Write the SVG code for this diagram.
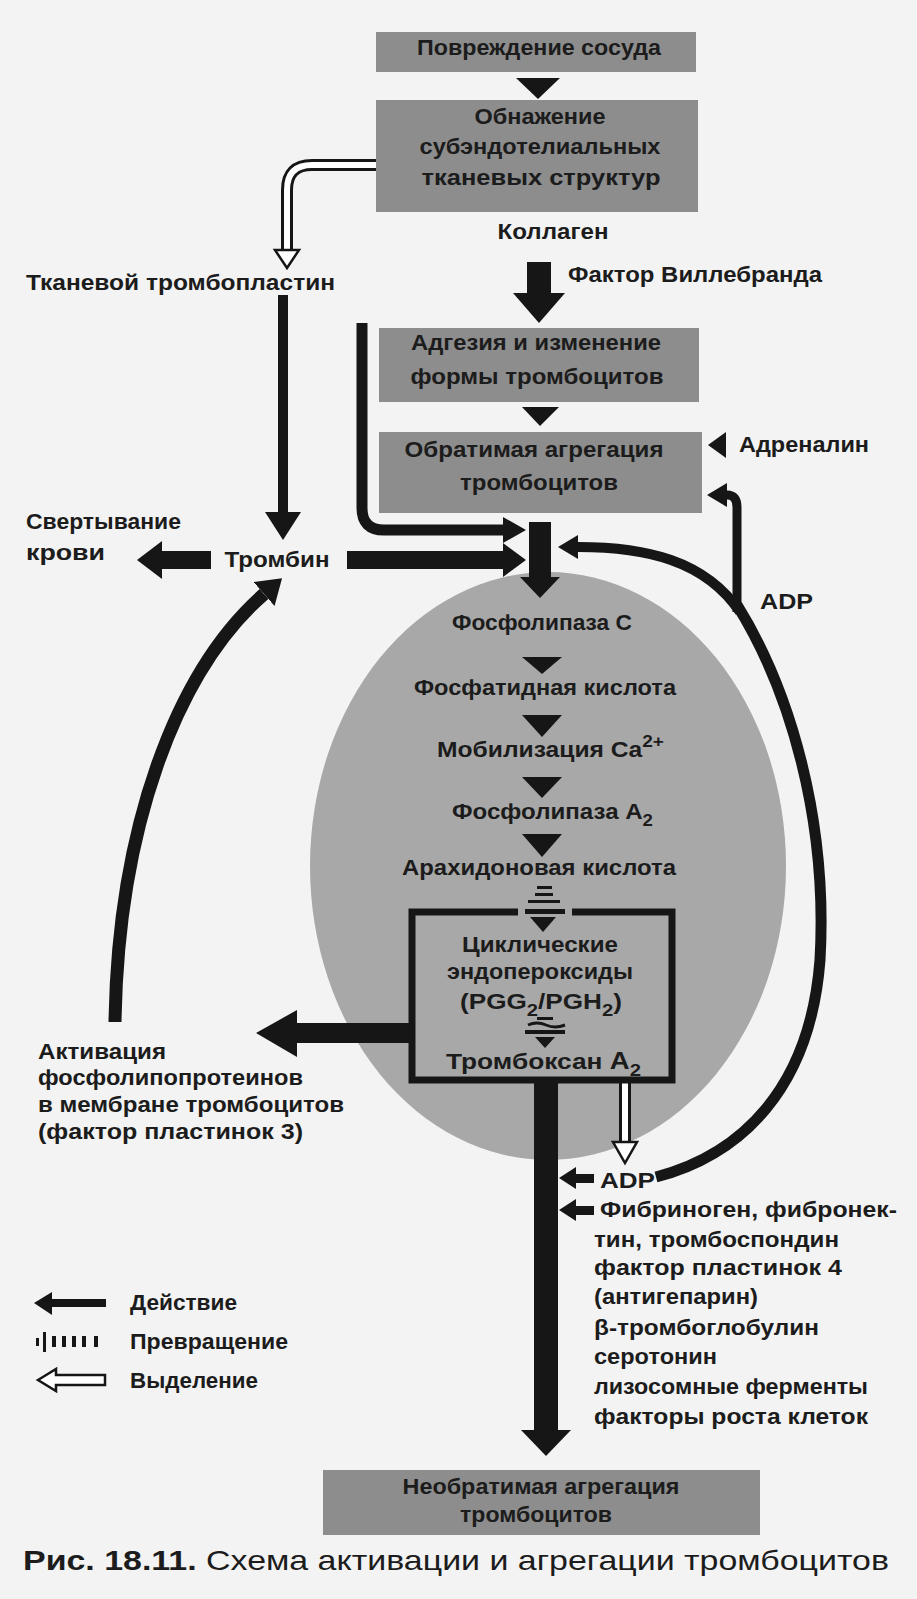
<svg xmlns="http://www.w3.org/2000/svg" width="917" height="1599" viewBox="0 0 917 1599">
<defs>
<style>
.lbl{font-family:"Liberation Sans",Arial,"Noto Sans",sans-serif;font-weight:bold;font-size:22px;fill:#1c1c1c}
.cap{font-family:"Liberation Sans",Arial,"Noto Sans",sans-serif;font-size:28px;fill:#1c1c1c}
.box{fill:#8d8d8d}
.ink{fill:#161616}
.ln{stroke:#161616;fill:none}
.hol{fill:#ffffff;stroke:#161616;stroke-width:2.5}
</style>
<marker id="ahS" markerUnits="userSpaceOnUse" viewBox="0 0 20 24" markerWidth="20" markerHeight="24" refX="0" refY="12" orient="auto"><path d="M0,0 L20,12 L0,24 Z" fill="#161616"/></marker>
<marker id="ahL" markerUnits="userSpaceOnUse" viewBox="0 0 24 32" markerWidth="24" markerHeight="32" refX="0" refY="16" orient="auto"><path d="M0,0 L24,16 L0,32 Z" fill="#161616"/></marker>
</defs>
<rect width="917" height="1599" fill="#f3f3f3"/>

<g id="platelet">
<ellipse cx="548" cy="866" rx="238" ry="294" fill="#a8a8a8"/>
</g>

<g id="connectors">
<polygon class="ink" points="516,78 560,78 538,99"/>
<polygon class="ink" points="522,407 559,407 540,426"/>
<path class="ln" stroke-width="12" d="M378 165 L312 165 Q287 165 287 190 L287 252"/>
<path d="M378 165 L312 165 Q287 165 287 190 L287 252" fill="none" stroke="#ffffff" stroke-width="6"/>
<polygon class="hol" points="275,250 299,250 287,268"/>
<rect class="ink" x="527" y="262" width="24" height="33"/>
<polygon class="ink" points="513,293 565,293 539,323"/>
<path class="ln" stroke-width="10" d="M283 295 L283 515"/>
<polygon class="ink" points="265,512 301,512 283,540"/>
<path class="ln" stroke-width="11" d="M362 323 L362 508 Q362 530 384 530 L505 530"/>
<polygon class="ink" points="503,517 503,543 526,530"/>
<rect class="ink" x="347" y="551" width="158" height="18"/>
<polygon class="ink" points="503,543 503,577 526,560"/>
<rect class="ink" x="160" y="551" width="51" height="18"/>
<polygon class="ink" points="162,541 162,579 137,560"/>
<rect class="ink" x="529" y="522" width="22" height="57"/>
<polygon class="ink" points="520,577 560,577 540,598"/>
<polygon class="ink" points="522,657 562,657 542,674"/>
<polygon class="ink" points="522,715 562,715 542,737"/>
<polygon class="ink" points="522,777 562,777 542,798"/>
<polygon class="ink" points="522,834 562,834 542,857"/>
<rect class="ink" x="537" y="886" width="15" height="3"/>
<rect class="ink" x="535" y="893" width="18" height="3"/>
<rect class="ink" x="528" y="900" width="32" height="3"/>
<rect class="ink" x="525" y="909" width="40" height="5"/>
<polygon class="ink" points="530,917 556,917 543,932"/>
<rect class="ink" x="537" y="1017" width="16" height="3"/>
<path class="ln" stroke-width="3" d="M528 1025 Q537 1021 546 1025 T565 1025"/>
<rect class="ink" x="525" y="1030" width="40" height="4"/>
<polygon class="ink" points="535,1037 555,1037 545,1048"/>
<rect class="ink" x="297" y="1023" width="115" height="20"/>
<polygon class="ink" points="297,1010 297,1057 256,1033"/>
<path class="ln" stroke-width="13" d="M115 1022 C118 830 175 672 264 594" marker-end="url(#ahL)"/>
<rect class="ink" x="534" y="1080" width="24" height="352"/>
<polygon class="ink" points="521,1430 571,1430 546,1456"/>
<path class="ln" stroke-width="12" d="M625 1083 L625 1144"/>
<path d="M625 1083 L625 1144" fill="none" stroke="#ffffff" stroke-width="6"/>
<polygon class="hol" points="613,1142 637,1142 625,1163"/>
<rect class="ink" x="574" y="1174" width="20" height="9"/>
<polygon class="ink" points="576,1167 576,1189 559,1178"/>
<rect class="ink" x="574" y="1206" width="20" height="9"/>
<polygon class="ink" points="576,1199 576,1221 559,1210"/>
<path class="ln" stroke-width="11" d="M656 1177 C740 1155 810 1090 820 960 C828 820 790 690 737 605"/>
<path class="ln" stroke-width="10" d="M740 612 C705 560 645 547 578 547" marker-end="url(#ahS)"/>
<path class="ln" stroke-width="9" d="M737 612 L737 507 Q737 495 727 495" marker-end="url(#ahS)"/>
<polygon class="ink" points="726,432 726,458 708,445"/>
</g>

<g id="n-povrezhdenie">
<rect class="box" x="376" y="32" width="320" height="40"/>
<text class="lbl" x="539" y="55" text-anchor="middle" textLength="244" lengthAdjust="spacingAndGlyphs">Повреждение сосуда</text>
</g>
<g id="n-obnazhenie">
<rect class="box" x="376" y="100" width="322" height="112"/>
<text class="lbl" x="540" y="124" text-anchor="middle" textLength="131" lengthAdjust="spacingAndGlyphs">Обнажение</text>
<text class="lbl" x="540" y="154" text-anchor="middle" textLength="241" lengthAdjust="spacingAndGlyphs">субэндотелиальных</text>
<text class="lbl" x="541" y="185" text-anchor="middle" textLength="239" lengthAdjust="spacingAndGlyphs">тканевых  структур</text>
</g>
<g id="n-kollagen">
<text class="lbl" x="553" y="239" text-anchor="middle" textLength="111" lengthAdjust="spacingAndGlyphs">Коллаген</text>
</g>
<g id="n-villebrand">
<text class="lbl" x="568" y="282" textLength="254" lengthAdjust="spacingAndGlyphs">Фактор Виллебранда</text>
</g>
<g id="n-tromboplastin">
<text class="lbl" x="26" y="290" textLength="309" lengthAdjust="spacingAndGlyphs">Тканевой тромбопластин</text>
</g>
<g id="n-adgeziya">
<rect class="box" x="379" y="328" width="320" height="74"/>
<text class="lbl" x="536" y="350" text-anchor="middle" textLength="250" lengthAdjust="spacingAndGlyphs">Адгезия и изменение</text>
<text class="lbl" x="537" y="384" text-anchor="middle" textLength="253" lengthAdjust="spacingAndGlyphs">формы тромбоцитов</text>
</g>
<g id="n-obratimaya">
<rect class="box" x="379" y="432" width="323" height="81"/>
<text class="lbl" x="534" y="457" text-anchor="middle" textLength="259" lengthAdjust="spacingAndGlyphs">Обратимая агрегация</text>
<text class="lbl" x="539" y="490" text-anchor="middle" textLength="158" lengthAdjust="spacingAndGlyphs">тромбоцитов</text>
</g>
<g id="n-adrenalin">
<text class="lbl" x="739" y="452" textLength="130" lengthAdjust="spacingAndGlyphs">Адреналин</text>
</g>
<g id="n-adp-top">
<text class="lbl" x="760" y="609" textLength="53" lengthAdjust="spacingAndGlyphs">ADP</text>
</g>
<g id="n-svertyvanie">
<text class="lbl" x="26" y="529" textLength="155" lengthAdjust="spacingAndGlyphs">Свертывание</text>
<text class="lbl" x="26" y="560" textLength="79" lengthAdjust="spacingAndGlyphs">крови</text>
</g>
<g id="n-trombin">
<text class="lbl" x="277" y="567" text-anchor="middle" textLength="105" lengthAdjust="spacingAndGlyphs">Тромбин</text>
</g>
<g id="n-fosfolipaza-c">
<text class="lbl" x="542" y="630" text-anchor="middle" textLength="180" lengthAdjust="spacingAndGlyphs">Фосфолипаза С</text>
</g>
<g id="n-fosfatidnaya">
<text class="lbl" x="545" y="695" text-anchor="middle" textLength="262" lengthAdjust="spacingAndGlyphs">Фосфатидная кислота</text>
</g>
<g id="n-ca">
<text class="lbl" x="437" y="757" textLength="227" lengthAdjust="spacingAndGlyphs">Мобилизация Ca<tspan dy="-10" font-size="17">2+</tspan></text>
</g>
<g id="n-fosfolipaza-a2">
<text class="lbl" x="452" y="819" textLength="201" lengthAdjust="spacingAndGlyphs">Фосфолипаза A<tspan dy="7" font-size="17">2</tspan></text>
</g>
<g id="n-arahidonovaya">
<text class="lbl" x="539" y="875" text-anchor="middle" textLength="274" lengthAdjust="spacingAndGlyphs">Арахидоновая кислота</text>
</g>
<g id="n-endoperoksidy">
<path class="ln" stroke-width="7" d="M518 912 L412 912 L412 1080 L672 1080 L672 912 L572 912"/>
<text class="lbl" x="540" y="952" text-anchor="middle" textLength="156" lengthAdjust="spacingAndGlyphs">Циклические</text>
<text class="lbl" x="540" y="979" text-anchor="middle" textLength="186" lengthAdjust="spacingAndGlyphs">эндопероксиды</text>
<text class="lbl" x="460" y="1009" textLength="162" lengthAdjust="spacingAndGlyphs">(PGG<tspan dy="7" font-size="17">2</tspan><tspan dy="-7">/PGH</tspan><tspan dy="7" font-size="17">2</tspan><tspan dy="-7">)</tspan></text>
<text class="lbl" x="446" y="1069" textLength="195" lengthAdjust="spacingAndGlyphs">Тромбоксан  <tspan font-size="23">A</tspan><tspan dy="7" font-size="17">2</tspan></text>
</g>
<g id="n-aktivaciya">
<text class="lbl" x="38" y="1059" textLength="128" lengthAdjust="spacingAndGlyphs">Активация</text>
<text class="lbl" x="38" y="1085" textLength="265" lengthAdjust="spacingAndGlyphs">фосфолипопротеинов</text>
<text class="lbl" x="38" y="1112" textLength="306" lengthAdjust="spacingAndGlyphs">в мембране тромбоцитов</text>
<text class="lbl" x="38" y="1139" textLength="265" lengthAdjust="spacingAndGlyphs">(фактор пластинок 3)</text>
</g>
<g id="n-adp-bottom">
<text class="lbl" x="600" y="1188" textLength="55" lengthAdjust="spacingAndGlyphs">ADP</text>
</g>
<g id="n-secreted">
<text class="lbl" x="600" y="1217" textLength="297" lengthAdjust="spacingAndGlyphs">Фибриноген, фибронек-</text>
<text class="lbl" x="594" y="1247" textLength="245" lengthAdjust="spacingAndGlyphs">тин, тромбоспондин</text>
<text class="lbl" x="594" y="1275" textLength="248" lengthAdjust="spacingAndGlyphs">фактор  пластинок 4</text>
<text class="lbl" x="594" y="1304" textLength="164" lengthAdjust="spacingAndGlyphs">(антигепарин)</text>
<text class="lbl" x="594" y="1335" textLength="225" lengthAdjust="spacingAndGlyphs">β-тромбоглобулин</text>
<text class="lbl" x="594" y="1364" textLength="123" lengthAdjust="spacingAndGlyphs">серотонин</text>
<text class="lbl" x="594" y="1394" textLength="274" lengthAdjust="spacingAndGlyphs">лизосомные ферменты</text>
<text class="lbl" x="594" y="1424" textLength="274" lengthAdjust="spacingAndGlyphs">факторы роста клеток</text>
</g>
<g id="legend">
<rect class="ink" x="50" y="1299" width="56" height="8"/>
<polygon class="ink" points="52,1292 52,1315 34,1303"/>
<text class="lbl" x="130" y="1310" textLength="107" lengthAdjust="spacingAndGlyphs">Действие</text>
<rect class="ink" x="36" y="1338" width="3" height="8"/>
<rect class="ink" x="43" y="1332" width="3" height="20"/>
<rect class="ink" x="52" y="1336" width="4" height="11"/>
<rect class="ink" x="62" y="1336" width="4" height="11"/>
<rect class="ink" x="72" y="1336" width="4" height="11"/>
<rect class="ink" x="82" y="1336" width="4" height="11"/>
<rect class="ink" x="94" y="1336" width="4" height="11"/>
<text class="lbl" x="130" y="1349" textLength="158" lengthAdjust="spacingAndGlyphs">Превращение</text>
<path class="hol" d="M38 1380 L56 1369 L56 1375 L105 1375 L105 1385 L56 1385 L56 1391 Z"/>
<text class="lbl" x="130" y="1388" textLength="128" lengthAdjust="spacingAndGlyphs">Выделение</text>
</g>
<g id="n-neobratimaya">
<rect class="box" x="323" y="1470" width="437" height="65"/>
<text class="lbl" x="541" y="1494" text-anchor="middle" textLength="277" lengthAdjust="spacingAndGlyphs">Необратимая агрегация</text>
<text class="lbl" x="536" y="1522" text-anchor="middle" textLength="152" lengthAdjust="spacingAndGlyphs">тромбоцитов</text>
</g>
<g id="caption">
<text class="cap" x="23" y="1570" textLength="866" lengthAdjust="spacingAndGlyphs"><tspan font-weight="bold">Рис. 18.11.</tspan> Схема активации и агрегации тромбоцитов</text>
</g>
</svg>
